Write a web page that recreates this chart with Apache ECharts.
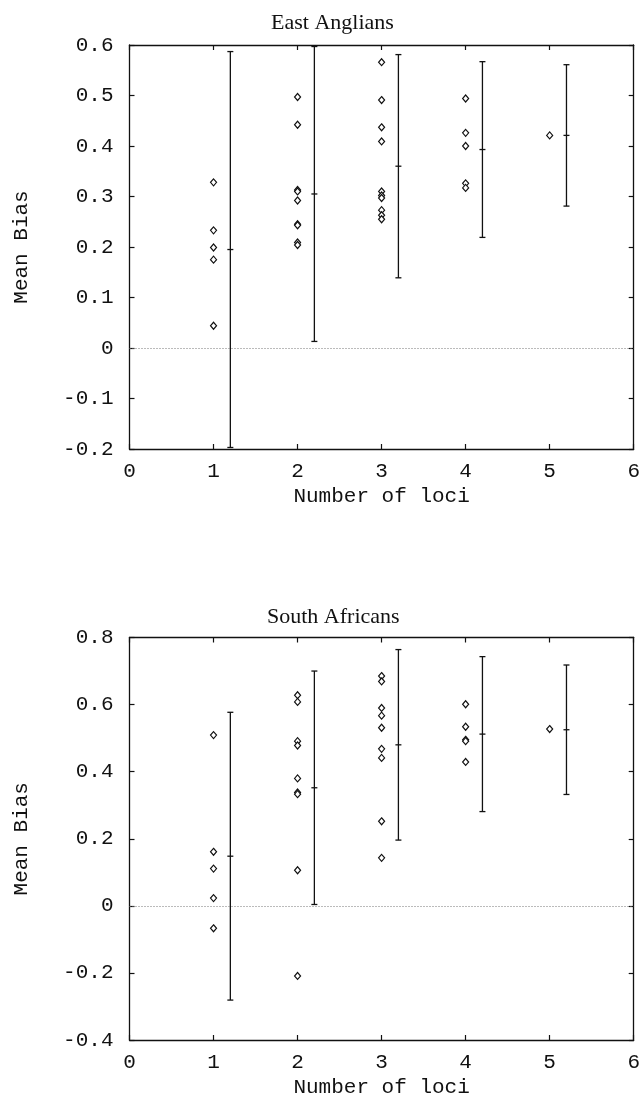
<!DOCTYPE html>
<html>
<head>
<meta charset="utf-8">
<script src="https://cdn.jsdelivr.net/npm/echarts@6/dist/echarts.min.js"></script>
<style>
html,body{margin:0;padding:0;background:#fff;}
#chart{width:643px;height:1099px;}
</style>
</head>
<body>
<div id="chart"></div>
<script>
// ---- Data ----
const loci = [1, 2, 3, 4, 5];

// East Anglians: individual mean biases per number of loci
const ea1 = [0.328, 0.233, 0.199, 0.175, 0.044];
const ea2 = [0.497, 0.442, 0.313, 0.310, 0.292, 0.245, 0.243, 0.209, 0.204];
const ea3 = [0.566, 0.491, 0.437, 0.409, 0.310, 0.302, 0.297, 0.273, 0.263, 0.255];
const ea4 = [0.494, 0.426, 0.400, 0.326, 0.317];
const ea5 = [0.421];
const eaMean = [0.195, 0.305, 0.360, 0.393, 0.421];
const eaHalf = [0.392, 0.292, 0.221, 0.174, 0.140];

// South Africans
const sa1 = [0.509, 0.161, 0.111, 0.023, -0.067];
const sa2 = [0.628, 0.608, 0.491, 0.478, 0.380, 0.338, 0.333, 0.106, -0.209];
const sa3 = [0.685, 0.669, 0.590, 0.567, 0.531, 0.468, 0.441, 0.252, 0.143];
const sa4 = [0.601, 0.534, 0.495, 0.491, 0.429];
const sa5 = [0.527];
const saMean = [0.148, 0.352, 0.480, 0.512, 0.525];
const saHalf = [0.429, 0.348, 0.284, 0.231, 0.193];

const titles = ['East Anglians', 'South Africans'];
const xName = 'Number of loci';
const yName = 'Mean Bias';

// ---- Build ----
const ERR_OFFSET = 0.2;
function pts(groups) {
  const out = [];
  groups.forEach((g, i) => g.forEach(v => out.push([loci[i], v])));
  return out;
}
function errs(mean, half) {
  return loci.map((x, i) => [x + ERR_OFFSET, mean[i] - half[i], mean[i], mean[i] + half[i]]);
}
function errRender(params, api) {
  const x = api.value(0);
  const lo = api.coord([x, api.value(1)]);
  const mid = api.coord([x, api.value(2)]);
  const hi = api.coord([x, api.value(3)]);
  const w = 3;
  const style = { stroke: '#111', lineWidth: 1.3 };
  return {
    type: 'group',
    children: [
      { type: 'line', shape: { x1: hi[0], y1: hi[1], x2: lo[0], y2: lo[1] }, style },
      { type: 'line', shape: { x1: hi[0] - w, y1: hi[1], x2: hi[0] + w, y2: hi[1] }, style },
      { type: 'line', shape: { x1: lo[0] - w, y1: lo[1], x2: lo[0] + w, y2: lo[1] }, style },
      { type: 'line', shape: { x1: mid[0] - w, y1: mid[1], x2: mid[0] + w, y2: mid[1] }, style }
    ]
  };
}

const mono = 'Liberation Mono';
const serif = 'Liberation Serif';
const axisLine = { show: true, onZero: false, lineStyle: { color: '#111', width: 1.3 } };
const tick = { show: true, inside: true, length: 5, lineStyle: { color: '#111', width: 1.2 } };

const grids = [
  { left: 129.5, right: 4.5, top: 45, height: 404 },
  { left: 129.5, right: 4.5, top: 637.5, height: 405.5 }
];
const yRanges = [
  { min: -0.2, max: 0.6, interval: 0.1 },
  { min: -0.4, max: 0.8, interval: 0.2 }
];

const xAxes = [], yAxes = [];
grids.forEach((g, gi) => {
  xAxes.push({
    type: 'value', gridIndex: gi, position: 'bottom', min: 0, max: 6, interval: 1,
    axisLine, axisTick: tick, splitLine: { show: false },
    axisLabel: { fontFamily: mono, fontSize: 21, color: '#111', margin: 12 },
    name: xName, nameLocation: 'middle', nameGap: 37,
    nameTextStyle: { fontFamily: mono, fontSize: 21, color: '#111' }
  });
  xAxes.push({
    type: 'value', gridIndex: gi, position: 'top', min: 0, max: 6, interval: 1,
    axisLine, axisTick: tick, splitLine: { show: false }, axisLabel: { show: false }
  });
  yAxes.push({
    type: 'value', gridIndex: gi, position: 'left', min: yRanges[gi].min, max: yRanges[gi].max,
    interval: yRanges[gi].interval,
    axisLine, axisTick: tick, splitLine: { show: false },
    axisLabel: { fontFamily: mono, fontSize: 21, color: '#111', margin: 16,
      formatter: v => String(Math.round(v * 10) / 10) },
    name: yName, nameLocation: 'middle', nameGap: 98, nameRotate: 90,
    nameTextStyle: { fontFamily: mono, fontSize: 21, color: '#111' }
  });
  yAxes.push({
    type: 'value', gridIndex: gi, position: 'right', min: yRanges[gi].min, max: yRanges[gi].max,
    interval: yRanges[gi].interval,
    axisLine, axisTick: tick, splitLine: { show: false }, axisLabel: { show: false }
  });
});

const datasets = [
  { points: pts([ea1, ea2, ea3, ea4, ea5]), err: errs(eaMean, eaHalf) },
  { points: pts([sa1, sa2, sa3, sa4, sa5]), err: errs(saMean, saHalf) }
];

const series = [];
datasets.forEach((d, gi) => {
  series.push({
    type: 'scatter', xAxisIndex: gi * 2, yAxisIndex: gi * 2, data: d.points,
    symbol: 'diamond', symbolSize: [6, 7],
    itemStyle: { color: '#fff', borderColor: '#111', borderWidth: 1.2, opacity: 1 },
    z: 5,
    markLine: {
      silent: true, symbol: 'none', label: { show: false },
      lineStyle: { type: [1, 2], color: '#777', width: 1 },
      data: [{ yAxis: 0 }]
    }
  });
  series.push({
    type: 'custom', xAxisIndex: gi * 2, yAxisIndex: gi * 2, data: d.err,
    renderItem: errRender, encode: { x: 0, y: [1, 2, 3] }, z: 4
  });
});

const chart = echarts.init(document.getElementById('chart'), null, { renderer: 'canvas' });
chart.setOption({
  animation: false,
  backgroundColor: '#fff',
  title: [
    { text: titles[0], left: 266, top: 7, textStyle: { fontFamily: serif, fontSize: 22, fontWeight: 'normal', color: '#111' } },
    { text: titles[1], left: 262, top: 601, textStyle: { fontFamily: serif, fontSize: 22, fontWeight: 'normal', color: '#111' } }
  ],
  grid: grids,
  xAxis: xAxes,
  yAxis: yAxes,
  series
});
</script>
</body>
</html>
